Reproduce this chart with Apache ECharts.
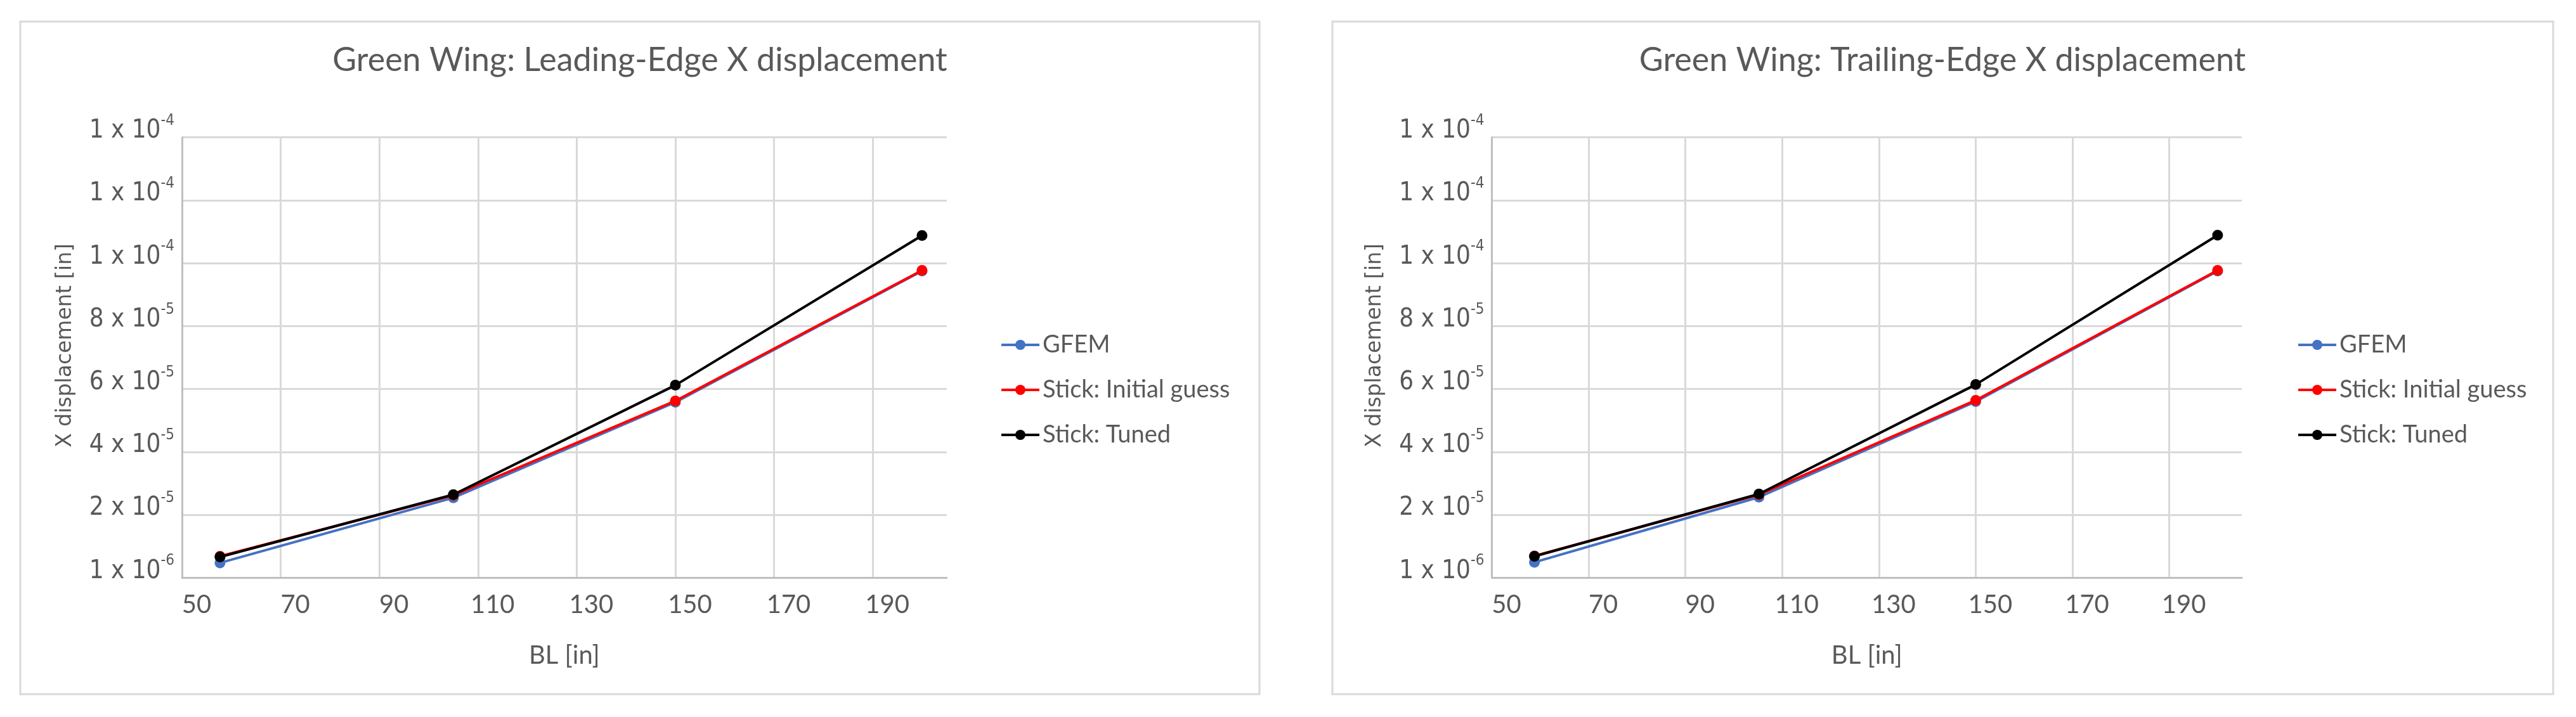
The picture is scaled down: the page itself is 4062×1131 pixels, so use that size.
<!DOCTYPE html>
<html>
<head>
<meta charset="utf-8">
<script src="https://cdn.jsdelivr.net/npm/echarts@6/dist/echarts.min.js"></script>
<style>
html,body{margin:0;padding:0;background:#ffffff;}
#c{width:4062px;height:1131px;}
</style>
</head>
<body>
<div id="c"></div>
<script>
// ---------- data ----------
const seriesNames = ['GFEM', 'Stick: Initial guess', 'Stick: Tuned'];
const chartTitles = ['Green Wing: Leading-Edge X displacement', 'Green Wing: Trailing-Edge X displacement'];
const xAxisTitle = 'BL [in]';
const yAxisTitle = 'X displacement [in]';

// Leading edge (left chart)
const blLeading      = [57.7, 105.0, 150.0, 200.0];
const gfemLeading    = [5.7e-6, 2.64e-5, 5.68e-5, 9.85e-5];
const initialLeading = [7.8e-6, 2.72e-5, 5.72e-5, 9.87e-5];
const tunedLeading   = [7.6e-6, 2.74e-5, 6.22e-5, 1.098e-4];

// Trailing edge (right chart)
const blTrailing      = [58.8, 105.2, 150.0, 200.0];
const gfemTrailing    = [5.9e-6, 2.66e-5, 5.70e-5, 9.85e-5];
const initialTrailing = [7.9e-6, 2.74e-5, 5.74e-5, 9.87e-5];
const tunedTrailing   = [7.8e-6, 2.76e-5, 6.24e-5, 1.099e-4];

// axis scales
const xMin = 50, xMax = 205, xStep = 20;
const yMin = 1e-6, yMax = 1.41e-4, yStep = 2e-5;

// ---------- styling ----------
const TXT = '#595959';
const GRID = '#d9d9d9';
const AXIS = '#bfbfbf';
const colors = ['#4472C4', '#FF0000', '#000000'];

function pairs(xs, ys) { return xs.map((x, i) => [x, ys[i]]); }

function sciLabel(v) {
  const parts = v.toExponential(0).split('e');
  return '{b|' + parts[0] + ' x 10}{s|' + (+parts[1]) + '}';
}

const panels = [
  {grid: {left: 287, top: 216.7, width: 1205.8, height: 694.5}, box: [32, 34, 1954, 1061], titleX: 1009, legendX: 1572,
   data: [pairs(blLeading, gfemLeading), pairs(blLeading, initialLeading), pairs(blLeading, tunedLeading)]},
  {grid: {left: 2352.5, top: 216.7, width: 1182.5, height: 694.5}, box: [2101, 34, 1925, 1061], titleX: 3063, legendX: 3617,
   data: [pairs(blTrailing, gfemTrailing), pairs(blTrailing, initialTrailing), pairs(blTrailing, tunedTrailing)]}
];

const option = {
  backgroundColor: '#ffffff',
  animation: false,
  grid: panels.map(p => p.grid),
  xAxis: panels.map((p, i) => ({
    type: 'value', gridIndex: i, min: xMin, max: xMax, interval: xStep,
    name: xAxisTitle, nameLocation: 'middle', nameGap: 103,
    nameTextStyle: {fontFamily: 'Lato', fontSize: 40, color: TXT, lineHeight: 40},
    axisLine: {show: true, lineStyle: {color: AXIS, width: 3}},
    axisTick: {show: false},
    axisLabel: {fontFamily: 'Lato', fontSize: 40, color: TXT, lineHeight: 40, margin: 23,
                showMaxLabel: false, padding: [0, 0, 0, 46]},
    splitLine: {show: true, showMaxLine: false, lineStyle: {color: GRID, width: 3}}
  })),
  yAxis: panels.map((p, i) => ({
    type: 'value', gridIndex: i, min: yMin, max: yMax, interval: yStep,
    name: yAxisTitle, nameLocation: 'middle', nameRotate: 90, nameGap: 164,
    nameTextStyle: {fontFamily: 'DejaVu Sans', fontSize: 33, color: TXT, lineHeight: 40, padding: [0, 0, 0, 38]},
    axisLine: {show: true, lineStyle: {color: AXIS, width: 3}},
    axisTick: {show: false},
    axisLabel: {
      margin: 12, padding: [0, 0, 28, 0],
      formatter: sciLabel,
      rich: {
        b: {fontFamily: 'DejaVu Sans Condensed', fontSize: 40, color: TXT, lineHeight: 48, verticalAlign: 'bottom'},
        s: {fontFamily: 'DejaVu Sans Condensed', fontSize: 24, color: TXT, lineHeight: 26, verticalAlign: 'top'}
      }
    },
    splitLine: {show: true, lineStyle: {color: GRID, width: 3}}
  })),
  legend: panels.map(p => ({
    orient: 'vertical', left: p.legendX, top: 520,
    itemWidth: 60, itemHeight: 20, itemGap: 33,
    lineStyle: {width: 4},
    textStyle: {fontFamily: 'Lato', fontSize: 38, color: TXT, lineHeight: 38},
    data: seriesNames
  })),
  graphic: panels.flatMap((p, i) => [
    {type: 'rect', shape: {x: p.box[0], y: p.box[1], width: p.box[2], height: p.box[3]},
     style: {fill: 'none', stroke: GRID, lineWidth: 3}, silent: true, z: -10},
    {type: 'text', x: p.titleX, y: 95,
     style: {text: chartTitles[i], fill: TXT, font: '52px Lato',
             align: 'center', verticalAlign: 'middle', textAlign: 'center', textVerticalAlign: 'middle'}}
  ]),
  series: panels.flatMap((p, i) => seriesNames.map((n, k) => ({
    type: 'line', name: n, xAxisIndex: i, yAxisIndex: i,
    data: p.data[k],
    symbol: 'circle', symbolSize: 17,
    lineStyle: {color: colors[k], width: 4},
    itemStyle: {color: colors[k]},
    z: 2 + k
  })))
};

const chart = echarts.init(document.getElementById('c'), null, {renderer: 'canvas'});
chart.setOption(option);
</script>
</body>
</html>
